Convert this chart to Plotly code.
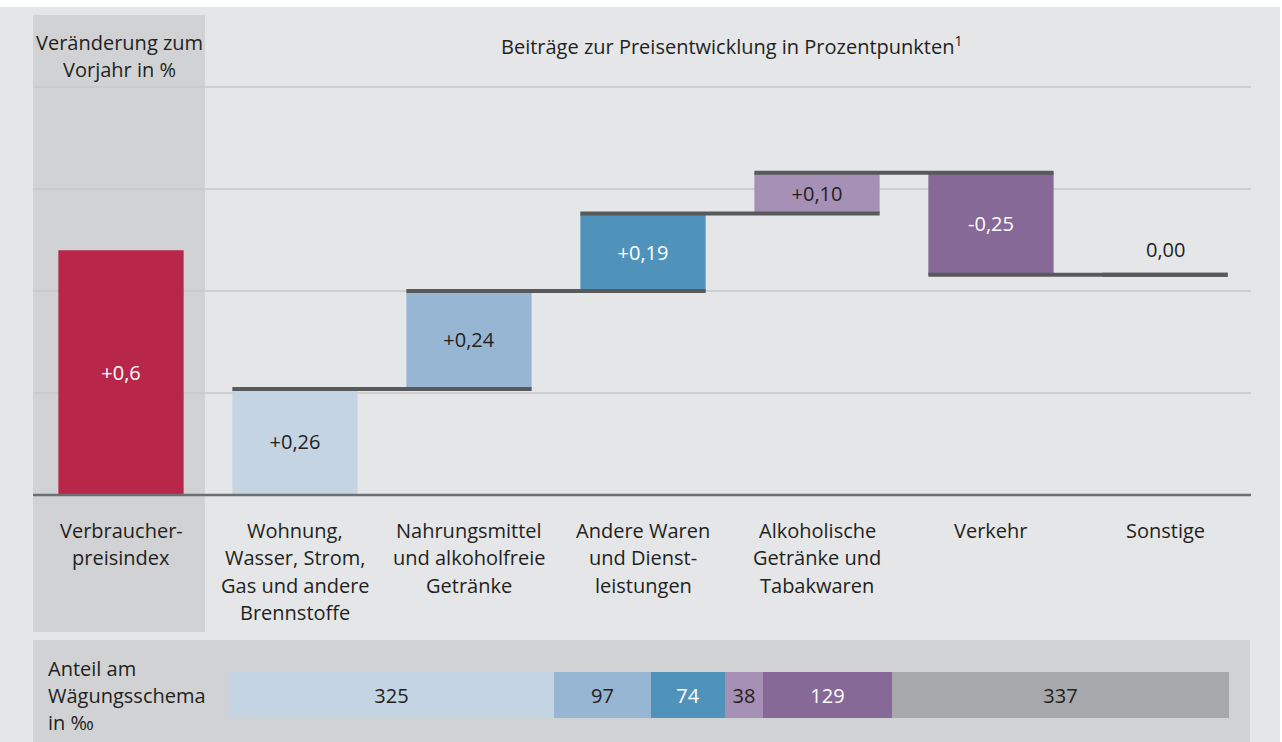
import plotly.graph_objects as go

# data
categories = ['Verbraucher-<br>preisindex',
              'Wohnung,<br>Wasser, Strom,<br>Gas und andere<br>Brennstoffe',
              'Nahrungsmittel<br>und alkoholfreie<br>Getränke',
              'Andere Waren<br>und Dienst-<br>leistungen',
              'Alkoholische<br>Getränke und<br>Tabakwaren',
              'Verkehr',
              'Sonstige']
cpi_change = 0.6
contributions = [0.26, 0.24, 0.19, 0.10, -0.25, 0.00]
weights = [325, 97, 74, 38, 129, 337]
gridline_values = [0.25, 0.5, 0.75, 1.0]

colors = ['#b8274a', '#c4d4e3', '#97b6d3', '#4f93ba', '#a790b6', '#866996', '#a7a8ab']
text_colors = ['white', '#231f20', '#231f20', 'white', '#231f20', 'white', '#231f20']

W, H = 1282, 742
FONT = 'Open Sans'
FS = 20
BG = '#e5e6e8'
DARK = '#d1d2d4'
px_unit = 174      # pixels per category
y_base = 495       # pixel of zero line
y_ppu = 408        # pixels per percentage point
bar_w = 0.72


def fmt(v, d=2):
    s = f'{v:+.{d}f}'.replace('.', ',')
    return s.lstrip('+') if abs(v) < 1e-9 else s


# waterfall: cumulative levels
levels = [cpi_change]
bar_x, bar_base, bar_val, bar_col, bar_tc, bar_text = [0], [0], [cpi_change], [colors[0]], [text_colors[0]], [fmt(cpi_change, 1)]
level = 0
for i, c in enumerate(contributions, start=1):
    if c != 0:
        bar_x.append(i)
        bar_base.append(level)
        bar_val.append(c)
        bar_col.append(colors[i])
        bar_tc.append(text_colors[i])
        bar_text.append(fmt(c))
    level += c
    levels.append(level)

fig = go.Figure()
fig.add_trace(go.Bar(
    x=bar_x, y=bar_val, base=bar_base, width=bar_w,
    marker=dict(color=bar_col, line=dict(width=0)),
    text=bar_text, textposition='inside', insidetextanchor='middle',
    textfont=dict(color=bar_tc, size=FS, family=FONT),
    hoverinfo='skip', showlegend=False,
))

# connector lines
cx, cy = [], []
n = len(categories)
for i in range(1, n):
    lv = levels[i]
    cx += [i - bar_w / 2, min(i + 1, n - 1) + bar_w / 2, None]
    cy += [lv, lv, None]
fig.add_trace(go.Scatter(x=cx, y=cy, mode='lines',
                         line=dict(color='#58595b', width=4),
                         hoverinfo='skip', showlegend=False))

# zero-value label
for i, c in enumerate(contributions, start=1):
    if c == 0:
        fig.add_annotation(x=i, y=levels[i], text=fmt(c), showarrow=False,
                           xanchor='center', yanchor='bottom', yshift=10,
                           font=dict(size=FS, color='#231f20', family=FONT))

# weight strip
wb, acc = [], 0
for w in weights:
    wb.append(acc)
    acc += w
fig.add_trace(go.Bar(
    x=weights, y=[0] * len(weights), base=wb, orientation='h', width=1,
    marker=dict(color=colors[1:], line=dict(width=0)),
    text=[str(w) for w in weights], textposition='inside', insidetextanchor='middle',
    textfont=dict(color=text_colors[1:], size=FS, family=FONT),
    xaxis='x2', yaxis='y2', hoverinfo='skip', showlegend=False,
))

# category labels, one annotation per line
for i, cat in enumerate(categories):
    for k, line in enumerate(cat.split('<br>')):
        fig.add_annotation(x=i, y=0, text=line, showarrow=False,
                           xanchor='center', yanchor='middle',
                           yshift=-(35 + k * 27.5),
                           font=dict(size=FS, color='#231f20', family=FONT))

shapes = [
    dict(type='rect', xref='paper', yref='paper', x0=0, x1=1, y0=1 - 7 / H, y1=1,
         fillcolor='white', line_width=0, layer='below'),
    dict(type='rect', xref='paper', yref='paper', x0=1280 / W, x1=1, y0=0, y1=1,
         fillcolor='white', line_width=0, layer='below'),
    dict(type='rect', xref='paper', yref='paper', x0=33 / W, x1=205 / W,
         y0=1 - 632 / H, y1=1 - 15 / H, fillcolor=DARK, line_width=0, layer='below'),
    dict(type='rect', xref='paper', yref='paper', x0=33 / W, x1=1250 / W,
         y0=0, y1=1 - 640 / H, fillcolor=DARK, line_width=0, layer='below'),
]
for g in gridline_values:
    shapes.append(dict(type='line', xref='paper', yref='y', x0=33 / W, x1=1251 / W,
                       y0=g, y1=g, line=dict(color='#c6c7c9', width=1.5), layer='below'))
shapes.append(dict(type='line', xref='paper', yref='y', x0=33 / W, x1=1251 / W,
                   y0=0, y1=0, line=dict(color='#6d6e71', width=2.5), layer='above'))

# headers
for k, line in enumerate(['Veränderung zum', 'Vorjahr in %']):
    fig.add_annotation(xref='paper', yref='paper', x=119 / W, y=1 - (43 + k * 27) / H,
                       text=line, showarrow=False, xanchor='center', yanchor='middle',
                       font=dict(size=FS, color='#231f20', family=FONT))
fig.add_annotation(xref='paper', yref='paper', x=731 / W, y=1 - 45 / H,
                   text='Beiträge zur Preisentwicklung in Prozentpunkten<sup>1</sup>',
                   showarrow=False, xanchor='center', yanchor='middle',
                   font=dict(size=FS, color='#231f20', family=FONT))
for k, line in enumerate(['Anteil am', 'Wägungsschema', 'in ‰']):
    fig.add_annotation(xref='paper', yref='paper', x=46 / W, y=1 - (668 + k * 27) / H,
                       text=line, showarrow=False, xanchor='left', yanchor='middle',
                       font=dict(size=FS, color='#231f20', family=FONT))

x0 = -121 / px_unit
fig.update_layout(
    width=W, height=H, margin=dict(l=0, r=0, t=0, b=0),
    paper_bgcolor=BG, plot_bgcolor='rgba(0,0,0,0)',
    barmode='overlay', shapes=shapes,
    uniformtext=dict(minsize=FS, mode='show'),
    xaxis=dict(range=[x0, x0 + W / px_unit], domain=[0, 1], visible=False, fixedrange=True),
    yaxis=dict(range=[(y_base - H) / y_ppu, y_base / y_ppu], domain=[0, 1],
               visible=False, fixedrange=True),
    xaxis2=dict(range=[-229, W - 229], domain=[0, 1], anchor='y2', visible=False),
    yaxis2=dict(range=[-0.5, 0.5], domain=[24 / H, 70 / H], anchor='x2', visible=False),
)

fig.write_html('out.html', config={'displayModeBar': False},
               post_script="document.body.style.margin='0';")
